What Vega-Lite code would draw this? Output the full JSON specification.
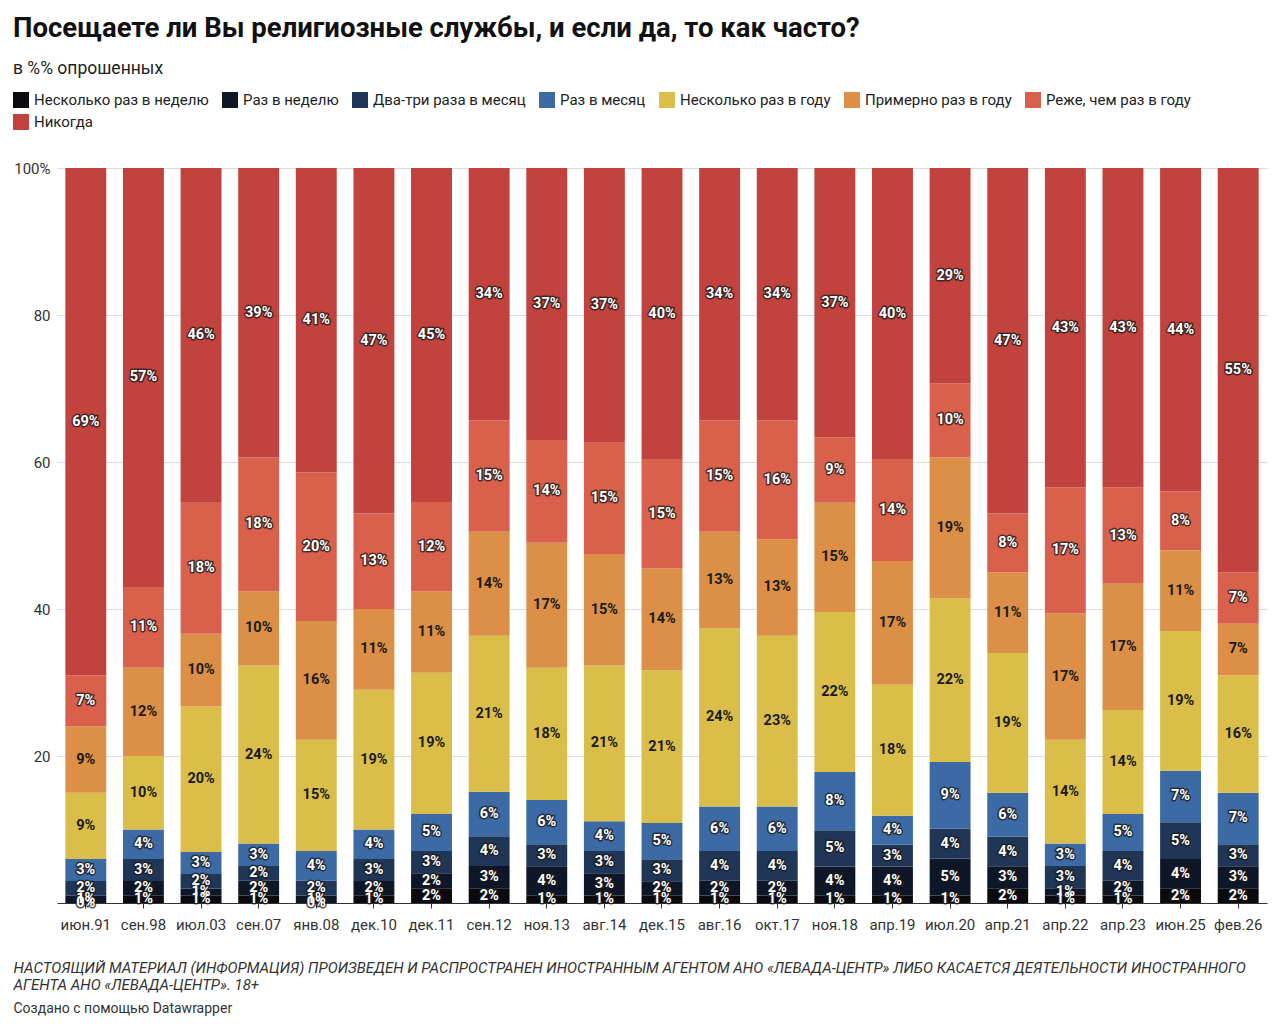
{
  "$schema": "https://vega.github.io/schema/vega-lite/v6.json",
  "autosize": {"type": "none"},
  "padding": {"left": 57, "top": 168, "right": 13, "bottom": 126},
  "width": 1210,
  "height": 735,
  "background": "#ffffff",
  "title": {
    "text": "Посещаете ли Вы религиозные службы, и если да, то как часто?",
    "subtitle": "в %% опрошенных",
    "anchor": "start",
    "frame": "bounds",
    "font": "Roboto",
    "fontSize": 27.5,
    "fontWeight": "bold",
    "color": "#111111",
    "subtitleFont": "Roboto",
    "subtitleFontSize": 17.5,
    "subtitleColor": "#222222",
    "subtitlePadding": 17,
    "offset": 15
  },
  "config": {
    "view": {"stroke": null},
    "font": "Roboto"
  },
  "data": {
    "values": [
      {"d": "июн.91", "c": "Несколько раз в неделю", "v": 0},
      {"d": "июн.91", "c": "Раз в неделю", "v": 1},
      {"d": "июн.91", "c": "Два-три раза в месяц", "v": 2},
      {"d": "июн.91", "c": "Раз в месяц", "v": 3},
      {"d": "июн.91", "c": "Несколько раз в году", "v": 9},
      {"d": "июн.91", "c": "Примерно раз в году", "v": 9},
      {"d": "июн.91", "c": "Реже, чем раз в году", "v": 7},
      {"d": "июн.91", "c": "Никогда", "v": 69},
      {"d": "сен.98", "c": "Несколько раз в неделю", "v": 1},
      {"d": "сен.98", "c": "Раз в неделю", "v": 2},
      {"d": "сен.98", "c": "Два-три раза в месяц", "v": 3},
      {"d": "сен.98", "c": "Раз в месяц", "v": 4},
      {"d": "сен.98", "c": "Несколько раз в году", "v": 10},
      {"d": "сен.98", "c": "Примерно раз в году", "v": 12},
      {"d": "сен.98", "c": "Реже, чем раз в году", "v": 11},
      {"d": "сен.98", "c": "Никогда", "v": 57},
      {"d": "июл.03", "c": "Несколько раз в неделю", "v": 1},
      {"d": "июл.03", "c": "Раз в неделю", "v": 1},
      {"d": "июл.03", "c": "Два-три раза в месяц", "v": 2},
      {"d": "июл.03", "c": "Раз в месяц", "v": 3},
      {"d": "июл.03", "c": "Несколько раз в году", "v": 20},
      {"d": "июл.03", "c": "Примерно раз в году", "v": 10},
      {"d": "июл.03", "c": "Реже, чем раз в году", "v": 18},
      {"d": "июл.03", "c": "Никогда", "v": 46},
      {"d": "сен.07", "c": "Несколько раз в неделю", "v": 1},
      {"d": "сен.07", "c": "Раз в неделю", "v": 2},
      {"d": "сен.07", "c": "Два-три раза в месяц", "v": 2},
      {"d": "сен.07", "c": "Раз в месяц", "v": 3},
      {"d": "сен.07", "c": "Несколько раз в году", "v": 24},
      {"d": "сен.07", "c": "Примерно раз в году", "v": 10},
      {"d": "сен.07", "c": "Реже, чем раз в году", "v": 18},
      {"d": "сен.07", "c": "Никогда", "v": 39},
      {"d": "янв.08", "c": "Несколько раз в неделю", "v": 0},
      {"d": "янв.08", "c": "Раз в неделю", "v": 1},
      {"d": "янв.08", "c": "Два-три раза в месяц", "v": 2},
      {"d": "янв.08", "c": "Раз в месяц", "v": 4},
      {"d": "янв.08", "c": "Несколько раз в году", "v": 15},
      {"d": "янв.08", "c": "Примерно раз в году", "v": 16},
      {"d": "янв.08", "c": "Реже, чем раз в году", "v": 20},
      {"d": "янв.08", "c": "Никогда", "v": 41},
      {"d": "дек.10", "c": "Несколько раз в неделю", "v": 1},
      {"d": "дек.10", "c": "Раз в неделю", "v": 2},
      {"d": "дек.10", "c": "Два-три раза в месяц", "v": 3},
      {"d": "дек.10", "c": "Раз в месяц", "v": 4},
      {"d": "дек.10", "c": "Несколько раз в году", "v": 19},
      {"d": "дек.10", "c": "Примерно раз в году", "v": 11},
      {"d": "дек.10", "c": "Реже, чем раз в году", "v": 13},
      {"d": "дек.10", "c": "Никогда", "v": 47},
      {"d": "дек.11", "c": "Несколько раз в неделю", "v": 2},
      {"d": "дек.11", "c": "Раз в неделю", "v": 2},
      {"d": "дек.11", "c": "Два-три раза в месяц", "v": 3},
      {"d": "дек.11", "c": "Раз в месяц", "v": 5},
      {"d": "дек.11", "c": "Несколько раз в году", "v": 19},
      {"d": "дек.11", "c": "Примерно раз в году", "v": 11},
      {"d": "дек.11", "c": "Реже, чем раз в году", "v": 12},
      {"d": "дек.11", "c": "Никогда", "v": 45},
      {"d": "сен.12", "c": "Несколько раз в неделю", "v": 2},
      {"d": "сен.12", "c": "Раз в неделю", "v": 3},
      {"d": "сен.12", "c": "Два-три раза в месяц", "v": 4},
      {"d": "сен.12", "c": "Раз в месяц", "v": 6},
      {"d": "сен.12", "c": "Несколько раз в году", "v": 21},
      {"d": "сен.12", "c": "Примерно раз в году", "v": 14},
      {"d": "сен.12", "c": "Реже, чем раз в году", "v": 15},
      {"d": "сен.12", "c": "Никогда", "v": 34},
      {"d": "ноя.13", "c": "Несколько раз в неделю", "v": 1},
      {"d": "ноя.13", "c": "Раз в неделю", "v": 4},
      {"d": "ноя.13", "c": "Два-три раза в месяц", "v": 3},
      {"d": "ноя.13", "c": "Раз в месяц", "v": 6},
      {"d": "ноя.13", "c": "Несколько раз в году", "v": 18},
      {"d": "ноя.13", "c": "Примерно раз в году", "v": 17},
      {"d": "ноя.13", "c": "Реже, чем раз в году", "v": 14},
      {"d": "ноя.13", "c": "Никогда", "v": 37},
      {"d": "авг.14", "c": "Несколько раз в неделю", "v": 1},
      {"d": "авг.14", "c": "Раз в неделю", "v": 3},
      {"d": "авг.14", "c": "Два-три раза в месяц", "v": 3},
      {"d": "авг.14", "c": "Раз в месяц", "v": 4},
      {"d": "авг.14", "c": "Несколько раз в году", "v": 21},
      {"d": "авг.14", "c": "Примерно раз в году", "v": 15},
      {"d": "авг.14", "c": "Реже, чем раз в году", "v": 15},
      {"d": "авг.14", "c": "Никогда", "v": 37},
      {"d": "дек.15", "c": "Несколько раз в неделю", "v": 1},
      {"d": "дек.15", "c": "Раз в неделю", "v": 2},
      {"d": "дек.15", "c": "Два-три раза в месяц", "v": 3},
      {"d": "дек.15", "c": "Раз в месяц", "v": 5},
      {"d": "дек.15", "c": "Несколько раз в году", "v": 21},
      {"d": "дек.15", "c": "Примерно раз в году", "v": 14},
      {"d": "дек.15", "c": "Реже, чем раз в году", "v": 15},
      {"d": "дек.15", "c": "Никогда", "v": 40},
      {"d": "авг.16", "c": "Несколько раз в неделю", "v": 1},
      {"d": "авг.16", "c": "Раз в неделю", "v": 2},
      {"d": "авг.16", "c": "Два-три раза в месяц", "v": 4},
      {"d": "авг.16", "c": "Раз в месяц", "v": 6},
      {"d": "авг.16", "c": "Несколько раз в году", "v": 24},
      {"d": "авг.16", "c": "Примерно раз в году", "v": 13},
      {"d": "авг.16", "c": "Реже, чем раз в году", "v": 15},
      {"d": "авг.16", "c": "Никогда", "v": 34},
      {"d": "окт.17", "c": "Несколько раз в неделю", "v": 1},
      {"d": "окт.17", "c": "Раз в неделю", "v": 2},
      {"d": "окт.17", "c": "Два-три раза в месяц", "v": 4},
      {"d": "окт.17", "c": "Раз в месяц", "v": 6},
      {"d": "окт.17", "c": "Несколько раз в году", "v": 23},
      {"d": "окт.17", "c": "Примерно раз в году", "v": 13},
      {"d": "окт.17", "c": "Реже, чем раз в году", "v": 16},
      {"d": "окт.17", "c": "Никогда", "v": 34},
      {"d": "ноя.18", "c": "Несколько раз в неделю", "v": 1},
      {"d": "ноя.18", "c": "Раз в неделю", "v": 4},
      {"d": "ноя.18", "c": "Два-три раза в месяц", "v": 5},
      {"d": "ноя.18", "c": "Раз в месяц", "v": 8},
      {"d": "ноя.18", "c": "Несколько раз в году", "v": 22},
      {"d": "ноя.18", "c": "Примерно раз в году", "v": 15},
      {"d": "ноя.18", "c": "Реже, чем раз в году", "v": 9},
      {"d": "ноя.18", "c": "Никогда", "v": 37},
      {"d": "апр.19", "c": "Несколько раз в неделю", "v": 1},
      {"d": "апр.19", "c": "Раз в неделю", "v": 4},
      {"d": "апр.19", "c": "Два-три раза в месяц", "v": 3},
      {"d": "апр.19", "c": "Раз в месяц", "v": 4},
      {"d": "апр.19", "c": "Несколько раз в году", "v": 18},
      {"d": "апр.19", "c": "Примерно раз в году", "v": 17},
      {"d": "апр.19", "c": "Реже, чем раз в году", "v": 14},
      {"d": "апр.19", "c": "Никогда", "v": 40},
      {"d": "июл.20", "c": "Несколько раз в неделю", "v": 1},
      {"d": "июл.20", "c": "Раз в неделю", "v": 5},
      {"d": "июл.20", "c": "Два-три раза в месяц", "v": 4},
      {"d": "июл.20", "c": "Раз в месяц", "v": 9},
      {"d": "июл.20", "c": "Несколько раз в году", "v": 22},
      {"d": "июл.20", "c": "Примерно раз в году", "v": 19},
      {"d": "июл.20", "c": "Реже, чем раз в году", "v": 10},
      {"d": "июл.20", "c": "Никогда", "v": 29},
      {"d": "апр.21", "c": "Несколько раз в неделю", "v": 2},
      {"d": "апр.21", "c": "Раз в неделю", "v": 3},
      {"d": "апр.21", "c": "Два-три раза в месяц", "v": 4},
      {"d": "апр.21", "c": "Раз в месяц", "v": 6},
      {"d": "апр.21", "c": "Несколько раз в году", "v": 19},
      {"d": "апр.21", "c": "Примерно раз в году", "v": 11},
      {"d": "апр.21", "c": "Реже, чем раз в году", "v": 8},
      {"d": "апр.21", "c": "Никогда", "v": 47},
      {"d": "апр.22", "c": "Несколько раз в неделю", "v": 1},
      {"d": "апр.22", "c": "Раз в неделю", "v": 1},
      {"d": "апр.22", "c": "Два-три раза в месяц", "v": 3},
      {"d": "апр.22", "c": "Раз в месяц", "v": 3},
      {"d": "апр.22", "c": "Несколько раз в году", "v": 14},
      {"d": "апр.22", "c": "Примерно раз в году", "v": 17},
      {"d": "апр.22", "c": "Реже, чем раз в году", "v": 17},
      {"d": "апр.22", "c": "Никогда", "v": 43},
      {"d": "апр.23", "c": "Несколько раз в неделю", "v": 1},
      {"d": "апр.23", "c": "Раз в неделю", "v": 2},
      {"d": "апр.23", "c": "Два-три раза в месяц", "v": 4},
      {"d": "апр.23", "c": "Раз в месяц", "v": 5},
      {"d": "апр.23", "c": "Несколько раз в году", "v": 14},
      {"d": "апр.23", "c": "Примерно раз в году", "v": 17},
      {"d": "апр.23", "c": "Реже, чем раз в году", "v": 13},
      {"d": "апр.23", "c": "Никогда", "v": 43},
      {"d": "июн.25", "c": "Несколько раз в неделю", "v": 2},
      {"d": "июн.25", "c": "Раз в неделю", "v": 4},
      {"d": "июн.25", "c": "Два-три раза в месяц", "v": 5},
      {"d": "июн.25", "c": "Раз в месяц", "v": 7},
      {"d": "июн.25", "c": "Несколько раз в году", "v": 19},
      {"d": "июн.25", "c": "Примерно раз в году", "v": 11},
      {"d": "июн.25", "c": "Реже, чем раз в году", "v": 8},
      {"d": "июн.25", "c": "Никогда", "v": 44},
      {"d": "фев.26", "c": "Несколько раз в неделю", "v": 2},
      {"d": "фев.26", "c": "Раз в неделю", "v": 3},
      {"d": "фев.26", "c": "Два-три раза в месяц", "v": 3},
      {"d": "фев.26", "c": "Раз в месяц", "v": 7},
      {"d": "фев.26", "c": "Несколько раз в году", "v": 16},
      {"d": "фев.26", "c": "Примерно раз в году", "v": 7},
      {"d": "фев.26", "c": "Реже, чем раз в году", "v": 7},
      {"d": "фев.26", "c": "Никогда", "v": 55}
    ]
  },
  "transform": [
    {"calculate": "indexof(['Несколько раз в неделю','Раз в неделю','Два-три раза в месяц','Раз в месяц','Несколько раз в году','Примерно раз в году','Реже, чем раз в году','Никогда'], datum.c)", "as": "o"},
    {"stack": "v", "groupby": ["d"], "sort": [{"field": "o", "order": "ascending"}], "offset": "normalize", "as": ["y0", "y1"]},
    {"calculate": "(datum.y0 + datum.y1) / 2", "as": "mid"},
    {"calculate": "datum.v + '%'", "as": "lab"}
  ],
  "encoding": {
    "x": {
      "field": "d",
      "type": "nominal",
      "sort": null,
      "scale": {"paddingInner": 0.29, "paddingOuter": 0.145},
      "axis": {
        "labelAngle": 0,
        "labelFont": "Roboto",
        "labelFontSize": 15,
        "labelColor": "#333333",
        "labelPadding": 9,
        "tickSize": 5,
        "tickColor": "#333333",
        "domainColor": "#333333",
        "grid": false,
        "title": ["НАСТОЯЩИЙ МАТЕРИАЛ (ИНФОРМАЦИЯ) ПРОИЗВЕДЕН И РАСПРОСТРАНЕН ИНОСТРАННЫМ АГЕНТОМ АНО «ЛЕВАДА-ЦЕНТР» ЛИБО КАСАЕТСЯ ДЕЯТЕЛЬНОСТИ ИНОСТРАННОГО", "АГЕНТА АНО «ЛЕВАДА-ЦЕНТР». 18+"],
        "titleFont": "Roboto",
        "titleFontSize": 15,
        "titleFontStyle": "italic",
        "titleFontWeight": "normal",
        "titleColor": "#333333",
        "titleAlign": "left",
        "titleBaseline": "top",
        "titleLineHeight": 17,
        "titleX": -44,
        "titleY": 57
      }
    }
  },
  "layer": [
    {
      "mark": {"type": "bar"},
      "encoding": {
        "y": {
          "field": "y0",
          "type": "quantitative",
          "scale": {"domain": [0, 1], "nice": false},
          "axis": {
            "values": [0, 0.2, 0.4, 0.6, 0.8, 1],
            "labelExpr": "datum.value == 1 ? '100%' : (datum.value == 0 ? '' : format(datum.value * 100, 'd'))",
            "labelFont": "Roboto",
            "labelFontSize": 15,
            "labelColor": "#333333",
            "labelPadding": 7,
            "ticks": false,
            "domain": false,
            "grid": true,
            "gridColor": "#d8dbe0",
            "gridWidth": 1,
            "title": "Создано с помощью Datawrapper",
            "titleFont": "Roboto",
            "titleFontSize": 14,
            "titleFontWeight": "normal",
            "titleColor": "#333333",
            "titleAngle": 0,
            "titleAlign": "left",
            "titleBaseline": "middle",
            "titleX": -44,
            "titleY": 840
          }
        },
        "y2": {"field": "y1"},
        "color": {
          "field": "c",
          "type": "nominal",
          "scale": {
            "domain": ["Несколько раз в неделю", "Раз в неделю", "Два-три раза в месяц", "Раз в месяц", "Несколько раз в году", "Примерно раз в году", "Реже, чем раз в году", "Никогда"],
            "range": ["#0a0a0f", "#0e1727", "#1f3656", "#3c6aa5", "#dbbe4a", "#db8f47", "#d9604b", "#c2423e"]
          },
          "legend": {
            "title": null,
            "orient": "none",
            "legendX": -44,
            "legendY": -76,
            "direction": "horizontal",
            "columns": 7,
            "gridAlign": "none",
            "symbolType": "square",
            "symbolSize": 256,
            "symbolStrokeWidth": 0,
            "symbolOpacity": 1,
            "labelFont": "Roboto",
            "labelFontSize": 15,
            "labelColor": "#222222",
            "labelOffset": 5,
            "labelLimit": 400,
            "columnPadding": 13,
            "rowPadding": 6
          }
        }
      }
    },
    {
      "transform": [{"filter": "datum.o != 4 && datum.o != 5"}],
      "mark": {"type": "text", "font": "Roboto", "fontWeight": "bold", "fontSize": 14.5, "baseline": "middle", "align": "center", "stroke": "#1a1a1a", "strokeWidth": 3, "strokeOpacity": 0.75, "strokeJoin": "round", "fill": "#1a1a1a"},
      "encoding": {
        "y": {"field": "mid", "type": "quantitative"},
        "text": {"field": "lab"}
      }
    },
    {
      "mark": {"type": "text", "font": "Roboto", "fontWeight": "bold", "fontSize": 14.5, "baseline": "middle", "align": "center"},
      "encoding": {
        "y": {"field": "mid", "type": "quantitative"},
        "text": {"field": "lab"},
        "color": {"condition": {"test": "datum.o == 4 || datum.o == 5", "value": "#1a1a1a"}, "value": "#ffffff"}
      }
    }
  ]
}
